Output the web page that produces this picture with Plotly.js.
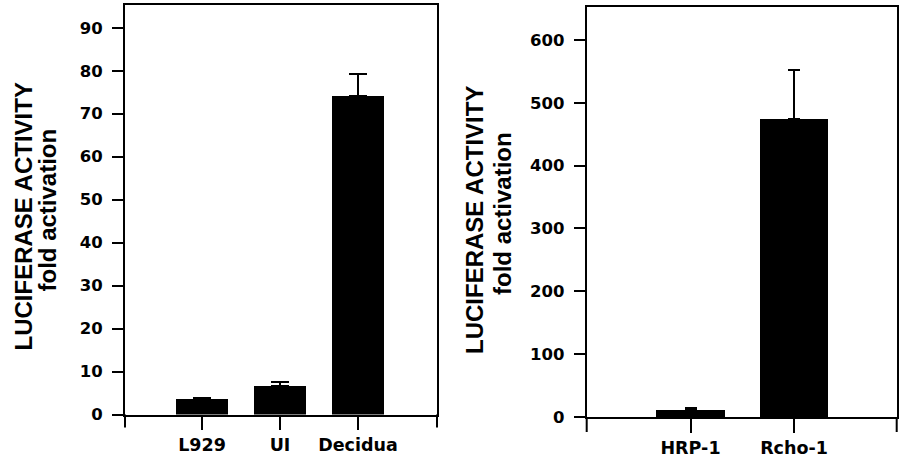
<!DOCTYPE html>
<html>
<head>
<meta charset="utf-8">
<script src="https://cdn.plot.ly/plotly-3.0.1.min.js"></script>
<style>html,body{margin:0;padding:0;background:#fff;}#chart{width:905px;height:461px;}</style>
</head>
<body>
<div id="chart"></div>
<script>
// Left panel data
const catsA = ['L929', 'UI', 'Decidua'];
const valsA = [3.7, 6.6, 74.2];
const errA = [0.15, 0.9, 5.1];
const ticksA = [0, 10, 20, 30, 40, 50, 60, 70, 80, 90];

// Right panel data
const catsB = ['HRP-1', 'Rcho-1'];
const valsB = [11.5, 475];
const errB = [2.5, 77];
const ticksB = [0, 100, 200, 300, 400, 500, 600];

const titleLine1 = 'LUCIFERASE ACTIVITY';
const titleLine2 = 'fold activation';

const W = 905, H = 461;
const tickFont = {family: 'DejaVu Sans', size: 16.5, color: '#000', weight: 'bold'};
const xTickFont = {family: 'DejaVu Sans', size: 17.5, color: '#000', weight: 'bold'};
const titleFont = {family: 'Liberation Sans, Arial', size: 24, color: '#000', weight: 'bold'};

const traces = [
  {
    type: 'bar', x: catsA, y: valsA, xaxis: 'x', yaxis: 'y', width: 0.667,
    marker: {color: '#000', line: {width: 0}},
    error_y: {type: 'data', symmetric: false, array: errA, arrayminus: errA.map(() => 0),
              color: '#000', thickness: 2, width: 9},
    hoverinfo: 'none', showlegend: false
  },
  {
    type: 'bar', x: catsB, y: valsB, xaxis: 'x2', yaxis: 'y2', width: 0.66,
    marker: {color: '#000', line: {width: 0}},
    error_y: {type: 'data', symmetric: false, array: errB, arrayminus: errB.map(() => 0),
              color: '#000', thickness: 2, width: 6},
    hoverinfo: 'none', showlegend: false
  }
];

function xAxis(domain, range, anchor, ticklen) {
  return {
    domain: domain, range: range, anchor: anchor, type: 'category',
    showline: true, linecolor: '#000', linewidth: 2, mirror: true,
    ticks: 'outside', ticklen: ticklen, tickwidth: 2, tickcolor: '#000',
    tickfont: xTickFont, showgrid: false, zeroline: false, automargin: false, fixedrange: true
  };
}
function yAxis(domain, range, anchor, tickvals) {
  return {
    domain: domain, range: range, anchor: anchor,
    tickmode: 'array', tickvals: tickvals, ticktext: tickvals.map(String),
    showline: true, linecolor: '#000', linewidth: 2, mirror: true,
    ticks: 'outside', ticklen: 11, tickwidth: 2, tickcolor: '#000',
    tickfont: tickFont, showgrid: false, zeroline: false, automargin: false, fixedrange: true,
    ticklabelstandoff: 6
  };
}

const yDomA = [1 - 414.5 / H, 1 - 5 / H];
const yDomB = [1 - 417 / H, 1 - 7.3 / H];

const layout = {
  width: W, height: H,
  margin: {l: 0, r: 0, t: 0, b: 0, pad: 0},
  paper_bgcolor: '#fff', plot_bgcolor: '#fff',
  showlegend: false, bargap: 0,
  xaxis: xAxis([125 / W, 437 / W], [-0.987, 3.013], 'y', 13),
  yaxis: yAxis(yDomA, [0, 95.3], 'x', ticksA),
  xaxis2: xAxis([586.7 / W, 896.7 / W], [-1.003, 1.992], 'y2', 14),
  yaxis2: yAxis(yDomB, [0, 652], 'x2', ticksB),
  shapes: [
    {type: 'line', xref: 'x domain', yref: 'y domain', x0: 0, x1: 0, y0: 0, y1: -13 / 409.5, line: {color: '#000', width: 2}},
    {type: 'line', xref: 'x domain', yref: 'y domain', x0: 1, x1: 1, y0: 0, y1: -13 / 409.5, line: {color: '#000', width: 2}},
    {type: 'line', xref: 'x2 domain', yref: 'y2 domain', x0: 0, x1: 0, y0: 0, y1: -15 / 409.7, line: {color: '#000', width: 2}},
    {type: 'line', xref: 'x2 domain', yref: 'y2 domain', x0: 1, x1: 1, y0: 0, y1: -15 / 409.7, line: {color: '#000', width: 2}}
  ],
  annotations: [
    {text: titleLine1, xref: 'paper', yref: 'paper', x: 23 / W, y: 1 - 216.5 / H, textangle: -90,
     showarrow: false, xanchor: 'center', yanchor: 'middle', font: titleFont},
    {text: titleLine2, xref: 'paper', yref: 'paper', x: 47 / W, y: 1 - 210.5 / H, textangle: -90,
     showarrow: false, xanchor: 'center', yanchor: 'middle', font: titleFont},
    {text: titleLine1, xref: 'paper', yref: 'paper', x: 475 / W, y: 1 - 220 / H, textangle: -90,
     showarrow: false, xanchor: 'center', yanchor: 'middle', font: titleFont},
    {text: titleLine2, xref: 'paper', yref: 'paper', x: 502 / W, y: 1 - 213 / H, textangle: -90,
     showarrow: false, xanchor: 'center', yanchor: 'middle', font: titleFont}
  ]
};

Plotly.newPlot('chart', traces, layout, {staticPlot: true, displayModeBar: false});
</script>
</body>
</html>
